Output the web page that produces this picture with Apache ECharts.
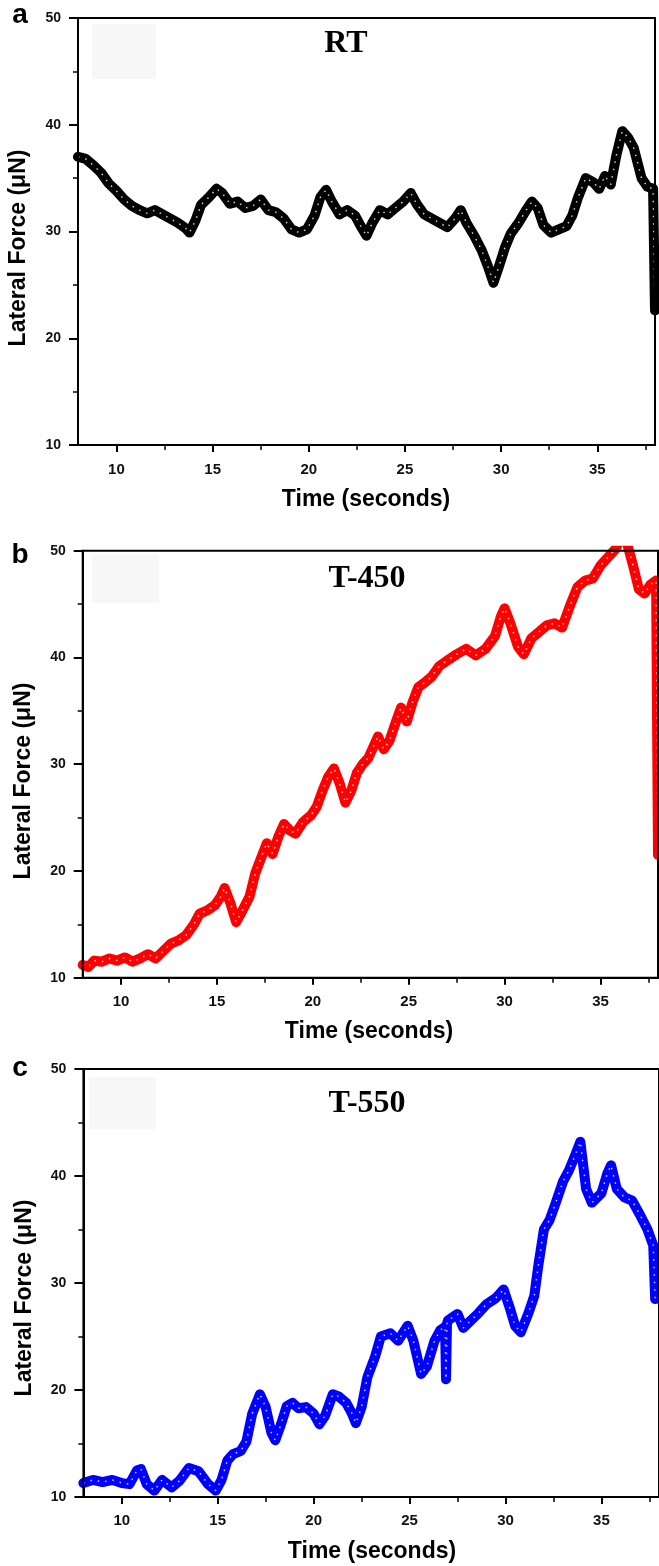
<!DOCTYPE html>
<html><head><meta charset="utf-8">
<script src="https://cdn.jsdelivr.net/npm/echarts@6/dist/echarts.min.js"></script>
<style>html,body{margin:0;padding:0;background:#fff}#c{width:659px;height:1566px}</style>
</head><body><div id="c"></div>
<script>
// ---- data ----
const timeA = [8.0,8.4,8.8,9.2,9.6,10.0,10.4,10.8,11.2,11.6,12.0,12.4,12.8,13.2,13.6,13.8,14.1,14.4,14.8,15.2,15.5,15.9,16.3,16.7,17.1,17.5,17.9,18.3,18.7,19.1,19.5,19.9,20.3,20.6,20.9,21.2,21.6,22.0,22.4,22.7,23.0,23.3,23.7,24.1,24.5,24.9,25.3,25.6,26.0,26.4,26.8,27.2,27.6,27.9,28.2,28.6,29.0,29.3,29.6,29.9,30.2,30.5,30.9,31.3,31.6,31.9,32.2,32.6,33.0,33.4,33.7,34.0,34.4,34.8,35.1,35.4,35.7,36.0,36.3,36.6,36.9,37.1,37.3,37.6,37.9,38.0];
const forceA = [37.0,36.8,36.2,35.5,34.5,33.8,33.0,32.4,32.0,31.7,32.0,31.6,31.2,30.8,30.3,29.9,31.0,32.5,33.2,34.0,33.6,32.6,32.8,32.2,32.4,33.0,32.0,31.8,31.2,30.2,29.9,30.2,31.5,33.2,33.9,32.8,31.6,32.0,31.5,30.5,29.6,30.8,32.0,31.6,32.2,32.8,33.6,32.6,31.6,31.2,30.8,30.4,31.2,32.0,30.8,29.6,28.2,26.8,25.2,26.8,28.5,29.8,30.8,32.0,32.8,32.2,30.6,29.9,30.2,30.5,31.5,33.2,35.0,34.6,34.0,35.2,34.4,37.2,39.4,38.8,37.8,36.4,35.0,34.2,34.0,22.6];

const timeB = [8.0,8.3,8.6,9.0,9.4,9.8,10.2,10.6,11.0,11.4,11.8,12.2,12.6,13.0,13.4,13.8,14.1,14.5,14.9,15.2,15.4,15.7,16.0,16.3,16.7,17.0,17.3,17.6,17.9,18.2,18.5,18.8,19.1,19.5,19.9,20.2,20.5,20.8,21.1,21.4,21.7,22.0,22.3,22.6,22.9,23.2,23.4,23.7,24.0,24.3,24.6,24.9,25.2,25.5,25.8,26.2,26.6,27.0,27.5,28.0,28.5,29.0,29.5,29.8,30.0,30.3,30.7,31.0,31.4,31.8,32.2,32.6,33.0,33.4,33.8,34.2,34.6,35.0,35.4,35.8,36.1,36.4,36.7,37.0,37.3,37.6,37.9,38.0];
const forceB = [11.2,11.0,11.6,11.5,11.8,11.6,11.9,11.5,11.8,12.2,11.8,12.5,13.2,13.5,14.0,15.0,16.0,16.3,16.8,17.6,18.4,17.0,15.2,16.2,17.6,19.8,21.2,22.6,21.6,23.2,24.4,23.8,23.5,24.6,25.2,26.0,27.5,28.8,29.6,28.2,26.4,27.5,29.2,30.0,30.6,31.8,32.6,31.4,32.2,33.8,35.3,34.0,35.8,37.2,37.6,38.2,39.2,39.7,40.3,40.8,40.2,40.8,42.0,43.8,44.6,43.2,41.0,40.3,41.8,42.4,43.0,43.2,42.8,44.8,46.6,47.2,47.4,48.6,49.4,50.2,51.5,50.6,48.6,46.4,46.0,46.8,47.2,21.5];

const timeC = [8.0,8.5,9.0,9.5,10.0,10.4,10.8,11.0,11.3,11.7,12.1,12.6,13.0,13.5,14.0,14.5,14.9,15.2,15.5,15.8,16.2,16.5,16.8,17.2,17.5,17.8,18.0,18.3,18.6,18.9,19.2,19.6,20.0,20.3,20.6,21.0,21.3,21.7,22.0,22.2,22.5,22.8,23.2,23.5,24.0,24.4,24.9,25.2,25.6,25.9,26.3,26.6,26.85,26.9,26.95,27.0,27.5,27.8,28.2,28.6,29.0,29.5,29.9,30.2,30.5,30.8,31.2,31.5,31.7,32.0,32.3,32.6,33.0,33.3,33.6,33.9,34.2,34.5,35.0,35.3,35.5,35.8,36.2,36.6,37.0,37.4,37.7,37.8];
const forceC = [11.3,11.6,11.4,11.6,11.3,11.2,12.5,12.6,11.2,10.6,11.6,10.9,11.5,12.7,12.4,11.2,10.6,11.6,13.4,14.0,14.3,15.2,17.8,19.6,18.4,16.0,15.3,16.8,18.5,18.8,18.3,18.4,17.8,16.8,17.6,19.6,19.4,18.8,17.8,16.9,18.4,21.2,23.1,25.0,25.3,24.6,26.0,24.6,21.5,22.2,24.6,25.6,25.9,21.0,26.2,26.5,27.1,25.8,26.5,27.2,28.0,28.6,29.4,27.8,26.0,25.4,27.2,28.8,31.5,35.0,35.9,37.4,39.5,40.5,41.8,43.2,38.8,37.5,38.4,40.2,41.0,38.8,38.0,37.7,36.4,35.0,33.5,28.5];

const xTickValues = [10, 15, 20, 25, 30, 35];
const yTickValues = [10, 20, 30, 40, 50];
const panelLetters = ['a', 'b', 'c'];
const panelTitles = ['RT', 'T-450', 'T-550'];
const xAxisTitle = 'Time (seconds)';
const yAxisTitle = 'Lateral Force (\u03bcN)';
const seriesColors = ['#000000', '#ff0000', '#0000ff'];

// ---- layout ----
const panels = [
  {left: 78,   top: 18,   width: 577,   height: 427, times: timeA, vals: forceA,
   letterY: 15, titleX: 346, titleY: 44, yTitleX: 19, yTitleY: 248, xTitleX: 366, xTitleY: 500,
   box: [92, 24, 64, 55], xMargin: 17},
  {left: 82.7, top: 550.7, width: 575.3, height: 427, times: timeB, vals: forceB,
   letterY: 555, titleX: 367, titleY: 579, yTitleX: 24, yTitleY: 781, xTitleX: 369, xTitleY: 1032,
   box: [92, 555, 67, 48], xMargin: 17},
  {left: 83.4, top: 1069, width: 579.6, height: 428, times: timeC, vals: forceC,
   letterY: 1068, titleX: 367, titleY: 1104, yTitleX: 25, yTitleY: 1298, xTitleX: 372, xTitleY: 1552,
   box: [89, 1077, 67, 52], xMargin: 16}
];

const tickFont = '"Liberation Sans", Arial, sans-serif';
const grids = [], xAxes = [], yAxes = [], series = [], graphics = [];

panels.forEach((p, i) => {
  grids.push({left: p.left, top: p.top, width: p.width, height: p.height,
    show: true, borderColor: '#000', borderWidth: 2, backgroundColor: 'transparent', z: 3});
  xAxes.push({type: 'value', gridIndex: i, min: 8, max: 38,
    axisLine: {show: true, onZero: false, lineStyle: {color: '#000', width: 2}},
    axisTick: {show: true, inside: false, length: 7, lineStyle: {color: '#000', width: 2}, customValues: xTickValues},
    minorTick: {show: true, splitNumber: 2, length: 5, lineStyle: {color: '#000', width: 1.5}},
    axisLabel: {show: true, margin: p.xMargin, color: '#111', fontFamily: tickFont, fontWeight: 'bold', fontSize: 15, customValues: xTickValues},
    splitLine: {show: false}, minorSplitLine: {show: false}});
  yAxes.push({type: 'value', gridIndex: i, min: 10, max: 50, interval: 10,
    axisLine: {show: true, onZero: false, lineStyle: {color: '#000', width: 2}},
    axisTick: {show: true, inside: false, length: 9, lineStyle: {color: '#000', width: 2}},
    minorTick: {show: true, splitNumber: 2, length: 5, lineStyle: {color: '#000', width: 1.5}},
    axisLabel: {show: true, margin: 17, color: '#111', fontFamily: tickFont, fontWeight: 'bold', fontSize: 14},
    splitLine: {show: false}, minorSplitLine: {show: false}});
  const data = p.times.map((t, k) => [t, p.vals[k]]);
  series.push({type: 'line', xAxisIndex: i, yAxisIndex: i, data: data, showSymbol: false, symbol: 'none',
    clip: true, lineStyle: {color: seriesColors[i], width: 10, join: 'round', cap: 'round'}, z: 2, silent: true});
  series.push({type: 'line', xAxisIndex: i, yAxisIndex: i, data: data, showSymbol: false, symbol: 'none',
    clip: true, lineStyle: {color: '#ffffff', width: 1.5, type: [1.5, 6], opacity: 0.8}, z: 2, silent: true});

  graphics.push({type: 'rect', shape: {x: p.box[0], y: p.box[1], width: p.box[2], height: p.box[3]},
    style: {fill: '#f7f7f7'}, z: 0, silent: true});
  graphics.push({type: 'text', x: 20, y: p.letterY, z: 10,
    style: {text: panelLetters[i], x: 0, y: 0, font: 'bold 28px "Liberation Sans", Arial, sans-serif', fill: '#000',
      align: 'center', verticalAlign: 'middle', textAlign: 'center', textVerticalAlign: 'middle'}});
  graphics.push({type: 'text', x: p.titleX, y: p.titleY, z: 10,
    style: {text: panelTitles[i], x: 0, y: 0, font: 'bold 32px "Liberation Serif", "Times New Roman", serif', fill: '#000',
      align: 'center', verticalAlign: 'middle', textAlign: 'center', textVerticalAlign: 'middle'}});
  graphics.push({type: 'text', x: p.yTitleX, y: p.yTitleY, rotation: Math.PI / 2, z: 10,
    style: {text: yAxisTitle, x: 0, y: 0, font: 'bold 23px "Liberation Sans", Arial, sans-serif', fill: '#000',
      align: 'center', verticalAlign: 'middle', textAlign: 'center', textVerticalAlign: 'middle'}});
  graphics.push({type: 'text', x: p.xTitleX, y: p.xTitleY, z: 10,
    style: {text: xAxisTitle, x: 0, y: 0, font: 'bold 23px "Liberation Sans", Arial, sans-serif', fill: '#000',
      align: 'center', verticalAlign: 'middle', textAlign: 'center', textVerticalAlign: 'middle'}});
});

const chart = echarts.init(document.getElementById('c'), null, {renderer: 'canvas', width: 659, height: 1566});
chart.setOption({
  animation: false,
  backgroundColor: '#ffffff',
  grid: grids, xAxis: xAxes, yAxis: yAxes, series: series, graphic: graphics
});
</script>
</body></html>
